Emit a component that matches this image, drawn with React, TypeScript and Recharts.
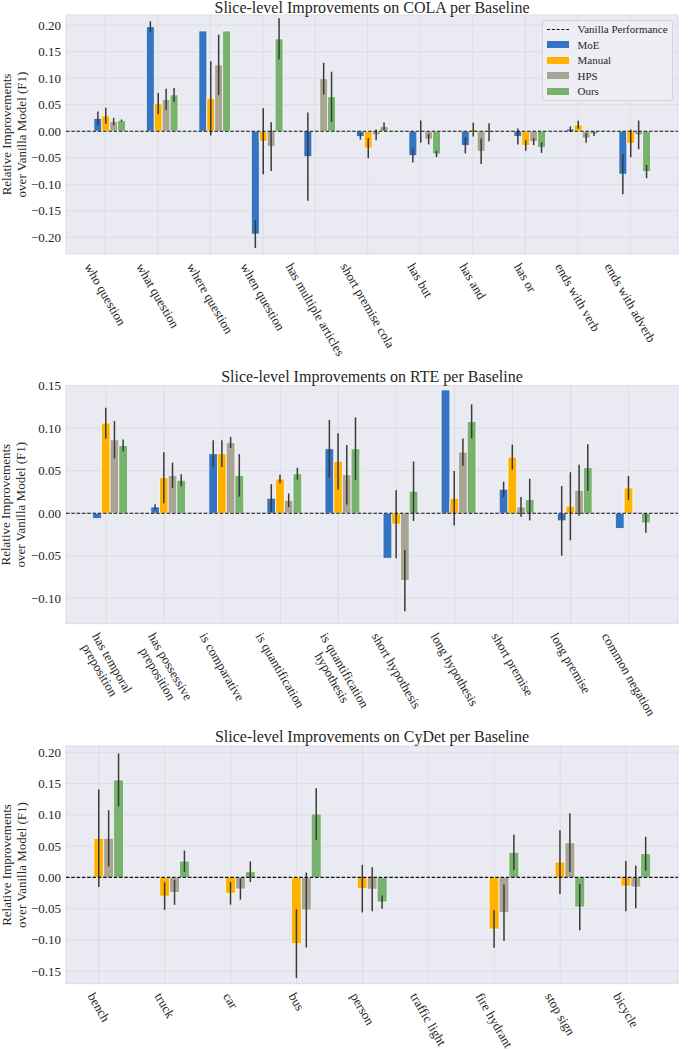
import React from "react";
import { Bar, BarChart, CartesianGrid, ErrorBar, Legend, ReferenceLine, XAxis, YAxis } from "recharts";

const FONT = '"Liberation Serif", "Times New Roman", serif';
const INK = "#262626";
const TICK_SIZE = 13;
const LINE_H = 14.5;

// COLA slices
const colaSlices = [
  "who question",
  "what question",
  "where question",
  "when question",
  "has multiple articles",
  "short premise cola",
  "has but",
  "has and",
  "has or",
  "ends with verb",
  "ends with adverb",
];
const colaMoE = [0.024, 0.197, 0.189, -0.194, -0.048, -0.01, -0.046, -0.027, -0.01, 0.004, -0.081];
const colaMoEErr = [0.013, 0.01, 0, 0.026, 0.083, 0.006, 0.013, 0.015, 0.015, 0.005, 0.038];
const colaManual = [0.029, 0.052, 0.062, -0.019, 0, -0.032, -0.001, 0.003, -0.027, 0.012, -0.023];
const colaManualErr = [0.015, 0.02, 0.07, 0.062, 0.036, 0.019, 0.021, 0.013, 0.01, 0.0075, 0.026];
const colaHPS = [0.018, 0.06, 0.125, -0.029, 0.099, -0.007, -0.015, -0.038, -0.0195, -0.013, -0.007];
const colaHPSErr = [0.007, 0.02, 0.057, 0.046, 0.03, 0.01, 0.01, 0.024, 0.007, 0.009, 0.027];
const colaOurs = [0.02, 0.0685, 0.189, 0.174, 0.065, 0.0087, -0.043, -0.002, -0.031, -0.005, -0.076];
const colaOursErr = [0.002, 0.013, 0, 0.039, 0.047, 0.0075, 0.006, 0.017, 0.01, 0.004, 0.0125];

// RTE slices
const rteSlices = [
  "has temporal\npreposition",
  "has possessive\npreposition",
  "is comparative",
  "is quantification",
  "is quantification\nhypothesis",
  "short hypothesis",
  "long hypothesis",
  "short premise",
  "long premise",
  "common negation",
];
const rteMoE = [-0.0063, 0.0074, 0.07, 0.0176, 0.0758, -0.0531, 0.145, 0.0281, -0.009, -0.018];
const rteMoEErr = [0, 0.003, 0.0157, 0.0165, 0.034, 0, 0, 0.009, 0.041, 0];
const rteManual = [0.106, 0.0418, 0.07, 0.0403, 0.061, -0.0129, 0.0176, 0.066, 0.0082, 0.0297];
const rteManualErr = [0.018, 0.03, 0.0157, 0.005, 0.033, 0.04, 0.032, 0.0147, 0.04, 0.014];
const rteHPS = [0.0864, 0.0445, 0.0832, 0.0152, 0.0453, -0.0793, 0.0719, 0.0074, 0.027, 0];
const rteHPSErr = [0.022, 0.015, 0.0065, 0.008, 0.035, 0.036, 0.016, 0.0117, 0.03, 0.022];
const rteOurs = [0.0797, 0.0387, 0.0445, 0.0465, 0.0758, 0.0258, 0.108, 0.016, 0.0536, -0.0114];
const rteOursErr = [0.007, 0.007, 0.025, 0.007, 0.037, 0.035, 0.02, 0.0245, 0.0274, 0.0115];

// CyDet objects (no MoE run)
const cydetObjects = ["bench", "truck", "car", "bus", "person", "traffic light", "fire hydrant", "stop sign", "bicycle"];
const cydetManual = [0.0624, -0.03, -0.0256, -0.106, -0.018, -0.001, -0.0827, 0.0245, -0.014];
const cydetManualErr = [0.078, 0.022, 0.018, 0.055, 0.038, 0, 0.03, 0.051, 0.04];
const cydetHPS = [0.0624, -0.024, -0.0187, -0.0523, -0.019, 0, -0.0566, 0.0554, -0.0155];
const cydetHPSErr = [0.045, 0.02, 0.017, 0.06, 0.035, 0, 0.045, 0.047, 0.034];
const cydetOurs = [0.1557, 0.026, 0.009, 0.1013, -0.0395, 0, 0.04, -0.0475, 0.0378];
const cydetOursErr = [0.0425, 0.017, 0.0165, 0.041, 0.0105, 0, 0.028, 0.037, 0.027];

const colaTicks = [-0.2, -0.15, -0.1, -0.05, 0, 0.05, 0.1, 0.15, 0.2];
const rteTicks = [-0.1, -0.05, 0, 0.05, 0.1, 0.15];
const cydetTicks = [-0.15, -0.1, -0.05, 0, 0.05, 0.1, 0.15, 0.2];

const SERIES = [
  { key: "moe", name: "MoE", color: "#3574c3" },
  { key: "manual", name: "Manual", color: "#ffb300" },
  { key: "hps", name: "HPS", color: "#a9a594" },
  { key: "ours", name: "Ours", color: "#77b26e" },
];

type Values = (number[] | null)[];

function buildRows(names: string[], values: Values, errors: Values) {
  return names.map((name, i) => {
    const row: Record<string, any> = { name };
    SERIES.forEach((s, k) => {
      if (values[k]) row[s.key] = values[k]![i];
      if (errors[k]) row[s.key + "Err"] = errors[k]![i];
    });
    return row;
  });
}

let measureCtx: CanvasRenderingContext2D | null = null;
function textWidth(s: string) {
  if (!measureCtx) measureCtx = document.createElement("canvas").getContext("2d");
  if (!measureCtx) return s.length * TICK_SIZE * 0.45;
  measureCtx.font = `${TICK_SIZE}px "Liberation Serif"`;
  return measureCtx.measureText(s).width;
}

// matplotlib-style rotation=-60, ha=center
function SlantTick({ x, y, payload }: any) {
  const lines = String(payload.value).split("\n");
  const w = Math.max(...lines.map(textWidth));
  const h = lines.length * LINE_H;
  const cy = y + 6.5 + (w * Math.sin(Math.PI / 3) + h * Math.cos(Math.PI / 3)) / 2;
  return (
    <g transform={`translate(${x},${cy}) rotate(60)`}>
      {lines.map((l, i) => (
        <text
          key={i}
          x={0}
          y={(i - (lines.length - 1) / 2) * LINE_H}
          textAnchor="middle"
          dominantBaseline="central"
          fontFamily={FONT}
          fontSize={TICK_SIZE}
          fill={INK}
        >
          {l}
        </text>
      ))}
    </g>
  );
}

const fmt = (v: number) => (v < -1e-9 ? "\u2212" : "") + Math.abs(v).toFixed(2);

function ValueTick({ x, y, payload }: any) {
  return (
    <text x={x} y={y} textAnchor="end" dominantBaseline="central" fontFamily={FONT} fontSize={TICK_SIZE} fill={INK}>
      {fmt(payload.value)}
    </text>
  );
}

function LegendBox() {
  const rows = [{ name: "Vanilla Performance", color: "" }, ...SERIES];
  return (
    <div
      style={{
        position: "relative",
        boxSizing: "border-box",
        width: 131,
        height: 81,
        background: "rgba(238,238,244,0.92)",
        border: "1px solid #d4d4dc",
        borderRadius: 3,
        fontFamily: FONT,
        fontSize: 11,
        color: INK,
      }}
    >
      {rows.map((r, i) => (
        <div
          key={r.name}
          style={{ position: "absolute", left: 3.5, top: 0.5 + 15.5 * i, height: 15.5, display: "flex", alignItems: "center" }}
        >
          {r.color ? (
            <div style={{ width: 22, height: 7, background: r.color }} />
          ) : (
            <svg width={22} height={7}>
              <line x1={0} x2={22} y1={3.5} y2={3.5} stroke="#111" strokeWidth={1.1} strokeDasharray="3 1.8" />
            </svg>
          )}
          <span style={{ marginLeft: 9, whiteSpace: "nowrap" }}>{r.name}</span>
        </div>
      ))}
    </div>
  );
}

type PanelProps = {
  top: number;
  height: number;
  marginTop: number;
  axisHeight: number;
  rows: Record<string, any>[];
  domain: [number, number];
  ticks: number[];
  padLeft: number;
  padRight: number;
  barSize: number;
  legend?: boolean;
};

function SlicePanel(p: PanelProps) {
  return (
    <div style={{ position: "absolute", left: 0, top: p.top }}>
      <BarChart
        width={694}
        height={p.height}
        data={p.rows}
        margin={{ top: p.marginTop, right: 16, bottom: 0, left: 0 }}
        barGap={0}
        barSize={p.barSize}
      >
        <CartesianGrid fill="#eaeaf2" stroke="#dcdce4" strokeWidth={1} />
        <XAxis
          dataKey="name"
          height={p.axisHeight}
          axisLine={false}
          tickLine={false}
          tickSize={0}
          tickMargin={0}
          interval={0}
          padding={{ left: p.padLeft, right: p.padRight }}
          tick={<SlantTick />}
        />
        <YAxis
          width={66}
          domain={p.domain}
          allowDataOverflow
          ticks={p.ticks}
          axisLine={false}
          tickLine={false}
          tickSize={0}
          tickMargin={5}
          tick={<ValueTick />}
        />
        <Bar dataKey="pad" legendType="none" isAnimationActive={false} />
        {SERIES.map((s) => (
          <Bar
            key={s.key}
            dataKey={s.key}
            name={s.name}
            fill={s.color}
            stroke="#ffffff"
            strokeWidth={0.7}
            isAnimationActive={false}
          >
            {p.rows.some((r) => r[s.key + "Err"] !== undefined) && (
              <ErrorBar dataKey={s.key + "Err"} width={0} stroke="#3a3a3a" strokeWidth={1.5} direction="y" />
            )}
          </Bar>
        ))}
        <ReferenceLine y={0} stroke="#111" strokeWidth={1.1} strokeDasharray="3.5 1.8" />
        {p.legend && (
          <Legend
            layout="vertical"
            align="center"
            verticalAlign="middle"
            wrapperStyle={{ top: 20, left: 542, width: 131 }}
            content={() => <LegendBox />}
          />
        )}
      </BarChart>
    </div>
  );
}

const colaRows = buildRows(
  colaSlices,
  [colaMoE, colaManual, colaHPS, colaOurs],
  [colaMoEErr, colaManualErr, colaHPSErr, colaOursErr]
);
const rteRows = buildRows(
  rteSlices,
  [rteMoE, rteManual, rteHPS, rteOurs],
  [rteMoEErr, rteManualErr, rteHPSErr, rteOursErr]
);
const cydetRows = buildRows(
  cydetObjects,
  [null, cydetManual, cydetHPS, cydetOurs],
  [null, cydetManualErr, cydetHPSErr, cydetOursErr]
);

const titles = [
  { text: "Slice-level Improvements on COLA per Baseline", y: 13, mid: 134.5 },
  { text: "Slice-level Improvements on RTE per Baseline", y: 382, mid: 504.7 },
  { text: "Slice-level Improvements on CyDet per Baseline", y: 742, mid: 865 },
];

export default function App() {
  return (
    <div style={{ position: "absolute", left: 0, top: 0, width: 694, height: 1050, background: "#fff" }}>
      <SlicePanel
        top={0}
        height={368}
        marginTop={15}
        axisHeight={114}
        rows={colaRows}
        domain={[-0.2315, 0.219]}
        ticks={colaTicks}
        padLeft={13}
        padRight={21.5}
        barSize={7.9}
        legend
      />
      <SlicePanel
        top={360}
        height={365}
        marginTop={25.7}
        axisHeight={101.3}
        rows={rteRows}
        domain={[-0.13, 0.15]}
        ticks={rteTicks}
        padLeft={11}
        padRight={20.2}
        barSize={8.7}
      />
      <SlicePanel
        top={720}
        height={330}
        marginTop={26}
        axisHeight={66.3}
        rows={cydetRows}
        domain={[-0.17, 0.21]}
        ticks={cydetTicks}
        padLeft={0}
        padRight={19}
        barSize={9.9}
      />
      <svg
        width={694}
        height={1050}
        style={{ position: "absolute", left: 0, top: 0, pointerEvents: "none" }}
      >
        {titles.map((t) => (
          <g key={t.text} fontFamily={FONT} fill={INK}>
            <text x={372} y={t.y} textAnchor="middle" fontSize={16}>
              {t.text}
            </text>
            <text
              x={6}
              y={t.mid}
              transform={`rotate(-90, 6, ${t.mid})`}
              textAnchor="middle"
              dominantBaseline="central"
              fontSize={13}
            >
              Relative Improvements
            </text>
            <text
              x={21}
              y={t.mid}
              transform={`rotate(-90, 21, ${t.mid})`}
              textAnchor="middle"
              dominantBaseline="central"
              fontSize={13}
            >
              over Vanilla Model (F1)
            </text>
          </g>
        ))}
      </svg>
    </div>
  );
}
